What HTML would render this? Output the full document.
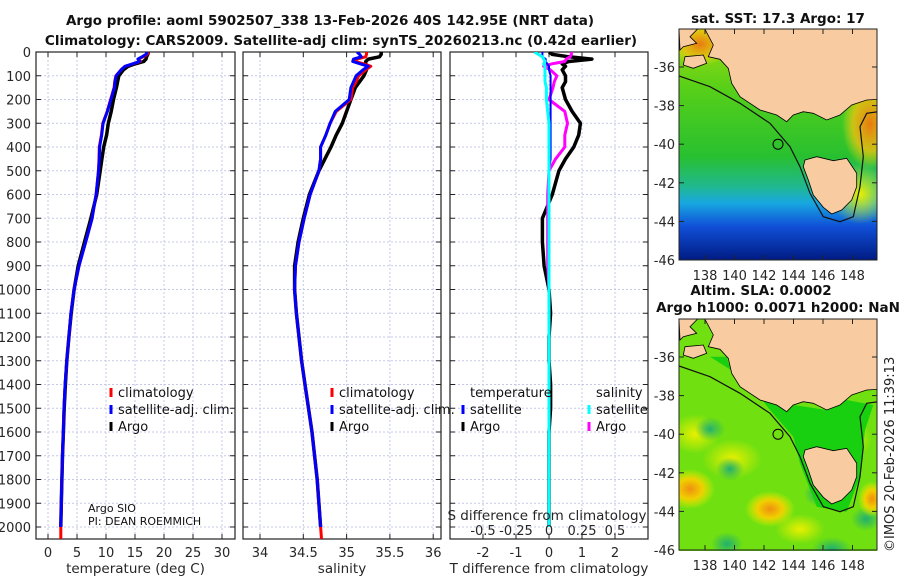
<!DOCTYPE html>
<html><head><meta charset="utf-8"><style>
html,body{margin:0;padding:0;background:#fff;}
svg{display:block;font-family:"DejaVu Sans","Liberation Sans",sans-serif;}
</style></head><body>
<svg id="fig" width="900" height="580" viewBox="0 0 900 580" xmlns="http://www.w3.org/2000/svg">
<defs>
<linearGradient id="sstGrad" x1="0" y1="0" x2="0" y2="1">
<stop offset="0" stop-color="#a8dc10"/><stop offset="0.25" stop-color="#58d018"/><stop offset="0.55" stop-color="#28c030"/>
<stop offset="0.68" stop-color="#20b890"/><stop offset="0.75" stop-color="#18a8e0"/><stop offset="0.85" stop-color="#1050d8"/><stop offset="1" stop-color="#001a80"/>
</linearGradient>
<radialGradient id="warm" cx="0.5" cy="0.5" r="0.5"><stop offset="0" stop-color="#e87a10"/><stop offset="0.6" stop-color="#f0c010" stop-opacity="0.8"/><stop offset="1" stop-color="#f0e010" stop-opacity="0"/></radialGradient>
<radialGradient id="yel" cx="0.5" cy="0.5" r="0.5"><stop offset="0" stop-color="#e8f000"/><stop offset="1" stop-color="#e8f000" stop-opacity="0"/></radialGradient>
<radialGradient id="teal" cx="0.5" cy="0.5" r="0.5"><stop offset="0" stop-color="#20b070"/><stop offset="1" stop-color="#20b070" stop-opacity="0"/></radialGradient>
<radialGradient id="org" cx="0.5" cy="0.5" r="0.5"><stop offset="0" stop-color="#f09010"/><stop offset="0.5" stop-color="#f0d000"/><stop offset="1" stop-color="#e8f000" stop-opacity="0"/></radialGradient>
<clipPath id="c1"><rect x="36" y="52" width="199" height="487"/></clipPath>
<clipPath id="c2"><rect x="243" y="52" width="198" height="487"/></clipPath>
<clipPath id="c3"><rect x="450" y="52" width="198" height="487"/></clipPath>
<clipPath id="m1"><rect x="679" y="29" width="198" height="231"/></clipPath>
<clipPath id="m2"><rect x="679" y="319" width="198" height="232"/></clipPath>
</defs>
<text x="330" y="25" text-anchor="middle" font-size="13.5" font-weight="bold" fill="#111">Argo profile: aoml 5902507_338 13-Feb-2026 40S 142.95E (NRT data)</text>
<text x="341" y="45" text-anchor="middle" font-size="13.5" font-weight="bold" fill="#111">Climatology: CARS2009. Satellite-adj clim: synTS_20260213.nc (0.42d earlier)</text>
<g id="panels"></g>
<g id="maps"></g>
<text transform="translate(894,552) rotate(-90)" font-size="13" fill="#222">©IMOS 20-Feb-2026 11:39:13</text>
</svg>
<script>
// ---- data ----
const depths = [0,10,20,30,40,50,60,75,100,125,150,200,250,300,350,400,450,500,600,700,800,900,1000,1100,1200,1300,1400,1500,1600,1700,1800,1900,2000,2050];
const argoT = [17.3,17.2,17.0,16.9,16.5,15.0,13.8,13.0,12.2,12.0,11.8,11.3,10.9,10.4,10.1,9.6,9.3,9.0,8.4,7.4,6.3,5.2,4.5,4.0,3.6,3.25,3.0,2.8,2.65,2.5,2.4,2.3,2.2];
const climT = [17.3,17.1,16.4,15.6,15.9,14.6,13.3,12.6,11.7,11.5,11.4,10.8,10.2,9.45,9.2,8.85,8.8,8.7,8.3,7.6,6.5,5.35,4.5,3.95,3.6,3.25,2.95,2.75,2.65,2.5,2.4,2.3,2.2,2.2];
const satT = [17.1,16.9,16.2,15.5,15.8,14.55,13.3,12.6,11.75,11.55,11.45,10.85,10.25,9.5,9.25,8.9,8.85,8.7,8.3,7.6,6.5,5.35,4.5,3.95,3.6,3.25,2.95,2.75,2.65,2.5,2.4,2.3,2.2];
const argoS = [35.40,35.40,35.38,35.25,35.22,35.22,35.24,35.23,35.20,35.15,35.10,35.05,35.00,34.95,34.88,34.82,34.75,34.68,34.57,34.50,34.44,34.40,34.40,34.42,34.45,34.48,34.52,34.56,34.60,34.63,34.66,34.68,34.70];
const climS = [35.23,35.23,35.22,35.12,35.10,35.20,35.28,35.22,35.14,35.11,35.07,35.05,34.88,34.81,34.76,34.70,34.70,34.68,34.58,34.51,34.45,34.41,34.40,34.42,34.45,34.48,34.52,34.56,34.60,34.63,34.66,34.68,34.70,34.71];
const satS = [35.12,35.15,35.17,35.08,35.07,35.16,35.25,35.19,35.11,35.08,35.05,35.03,34.87,34.81,34.76,34.70,34.70,34.68,34.58,34.51,34.45,34.41,34.40,34.42,34.45,34.48,34.52,34.56,34.60,34.63,34.66,34.68,34.70];
const depthTicks = [0,100,200,300,400,500,600,700,800,900,1000,1100,1200,1300,1400,1500,1600,1700,1800,1900,2000];
const tTicks = [0,5,10,15,20,25,30];
const sTicks = [34,34.5,35,35.5,36];
const sTickLabels = ["34","34.5","35","35.5","36"];
const dTTicks = [-2,-1,0,1,2];
const dSTicks = [-0.5,-0.25,0,0.25,0.5];
const dSTickLabels = ["-0.5","-0.25","0","0.25","0.5"];
const lonTicks = [138,140,142,144,146,148];
const latTicks = [-36,-38,-40,-42,-44,-46];

// ---- scales ----
const yD = d => 52 + d*0.2375;
const xT = t => 48 + t*5.8;
const xS = s => 260 + (s-34)*86.6;
const xDT = v => 549 + v*33;
const xDS = v => 549 + v*4*33;
const NS = "http://www.w3.org/2000/svg";
const P = document.getElementById('panels');
function mk(tag, attrs, parent){const e=document.createElementNS(NS,tag);for(const k in attrs)e.setAttribute(k,attrs[k]);(parent||P).appendChild(e);return e;}
function line(x1,y1,x2,y2,st,sw,da,parent){return mk('line',{x1,y1,x2,y2,stroke:st,'stroke-width':sw,'stroke-dasharray':da||'none'},parent);}
function txt(x,y,s,anchor,size,parent){const e=mk('text',{x,y,'text-anchor':anchor,'font-size':size,fill:'#262626'},parent);e.textContent=s;return e;}

function panel(name,L,R,xs,ticks,labels,xlabel,clip){
  const g=mk('g',{});
  
  
  depthTicks.forEach(d=>{ if(d>0) line(L,yD(d),R,yD(d),'#c4c8e8',1,'2,2',g);
    line(L,yD(d),L+5,yD(d),'#222',1,null,g); line(R,yD(d),R-5,yD(d),'#222',1,null,g);});
  ticks.forEach((t,i)=>{const x=xs(t); line(x,52,x,539,'#c4c8e8',1,'2,2',g);
    line(x,539,x,534,'#222',1,null,g); line(x,52,x,57,'#222',1,null,g);
    const l=txt(x,557,labels[i],'middle',13,g);
    
    
  });
  const fr=mk('rect',{x:L,y:52,width:R-L,height:487,fill:'none',stroke:'#222','stroke-width':1.2},g);
  
  
  const xl=txt((L+R)/2,573,xlabel,'middle',13.5,g);
  
  
  return g;
}
function series(vals,xs,color,name,clip,w){
  let d='';vals.forEach((v,i)=>{d+=(i?'L':'M')+xs(v).toFixed(1)+','+yD(depths[i]).toFixed(1);});
  const p=mk('path',{d,fill:'none',stroke:color,'stroke-width':w||3,'stroke-linejoin':'round','clip-path':'url(#'+clip+')'});
  
  
}
// depth labels
depthTicks.forEach(d=>{const t=txt(31,yD(d)+5,String(d),'end',13);
  
  });

panel('temperature-panel',36,235,xT,tTicks,tTicks.map(String),'temperature (deg C)');
series(argoT,xT,'#000','argo-temperature-line','c1',3.5);
series(climT,xT,'#f00','climatology-temperature-line','c1');
series(satT,xT,'#00f','satellite-temperature-line','c1');

panel('salinity-panel',243,441,xS,sTicks,sTickLabels,'salinity');
series(argoS,xS,'#000','argo-salinity-line','c2',3.5);
series(climS,xS,'#f00','climatology-salinity-line','c2');
series(satS,xS,'#00f','satellite-salinity-line','c2');

panel('difference-panel',450,648,xDT,dTTicks,dTTicks.map(String),'T difference from climatology');
const dTA=argoT.map((v,i)=>v-climT[i]), dTS=satT.map((v,i)=>v-climT[i]);
const dSA=argoS.map((v,i)=>v-climS[i]), dSS=satS.map((v,i)=>v-climS[i]);
series(dTA,xDT,'#000','argo-t-diff-line','c3',3.5);
series(dSA,xDS,'#f0f','argo-s-diff-line','c3');
series(dTS,xDT,'#00f','satellite-t-diff-line','c3',2);
series(dSS,xDS,'#0ff','satellite-s-diff-line','c3');
dSTicks.forEach((t,i)=>{const l=txt(xDS(t),535,dSTickLabels[i],'middle',13);
  
  });
{const t=txt(547,520,'S difference from climatology','middle',13.5);
 
 }

// legends
function leg(x,y,color,label){const g=mk('g',{});
  
  
  mk('rect',{x:x-1.5,y:y-9,width:3,height:9,fill:color},g);
  txt(x+7,y,label,'start',13,g).setAttribute('fill','#111');}
leg(111,397,'#f00','climatology');leg(111,414,'#00f','satellite-adj. clim.');leg(111,431,'#000','Argo');
leg(332,397,'#f00','climatology');leg(332,414,'#00f','satellite-adj. clim.');leg(332,431,'#000','Argo');
{const t=txt(470,397,'temperature','start',13);t.setAttribute('fill','#111');
 
 }
leg(463,414,'#00f','satellite');leg(463,431,'#000','Argo');
{const t=txt(596,397,'salinity','start',13);t.setAttribute('fill','#111');
 
 }
leg(589,414,'#0ff','satellite');leg(589,431,'#f0f','Argo');
{const t=txt(88,512,'Argo SIO','start',11);t.setAttribute('fill','#111');
 
 
 const t2=txt(88,525,'PI: DEAN ROEMMICH','start',11);t2.setAttribute('fill','#111');
 
 }

// ---- maps ----
const M=document.getElementById('maps');
const mainland=[[135,88],[160,135],[145,170],[180,178],[205,205],[215,250],[240,290],[300,330],[350,345],[380,365],[400,345],[430,335],[460,340],[500,360],[540,345],[575,315],[620,300],[655,298],[655,85],[135,85]];
const gulfLand=[[57,85],[115,85],[90,110],[110,130],[70,140],[60,150]];
const island=[[75,170],[130,165],[140,190],[100,205],[70,195]];
const tas=[[435,480],[470,470],[520,482],[560,475],[590,520],[590,560],[575,600],[545,630],[515,642],[490,622],[460,585],[445,540],[430,500]];
const contour=[[57,228],[150,260],[240,310],[330,370],[390,440],[420,500],[450,580],[490,650],[540,665],[580,650],[600,560],[610,470],[600,380],[620,340],[655,335]];
function pts(a,dy){return a.map(p=>(660+p[0]/3).toFixed(1)+','+(p[1]/3+dy).toFixed(1)).join(' ');}
function drawMap(dy,n,kind){
  const g=mk('g',{'clip-path':'url(#'+(n===1?'m1':'m2')+')'},M);
  
  
  const top=29+dy;
  if(kind==='sst'){
    mk('rect',{x:679,y:top,width:198,height:232,fill:'url(#sstGrad)'},g);
    mk('ellipse',{cx:870,cy:top+95,rx:28,ry:45,fill:'url(#warm)'},g);
    mk('ellipse',{cx:700,cy:top+15,rx:30,ry:22,fill:'url(#warm)'},g);
    mk('ellipse',{cx:860,cy:top+165,rx:30,ry:30,fill:'url(#yel)'},g);
  } else {
    mk('rect',{x:679,y:top,width:198,height:232,fill:'#70e010'},g);
    [[695,top+115,25,20,'yel'],[690,top+170,25,20,'org'],[770,top+190,25,18,'org'],[732,top+140,30,20,'yel'],[800,top+210,25,15,'yel'],[710,top+110,15,12,'teal'],[730,top+150,14,12,'teal'],[727,top+225,16,12,'teal'],[866,top+200,15,12,'teal'],[872,top+180,14,18,'org'],[850,top+120,22,20,'yel'],[832,top+230,20,12,'teal'],[818,top+175,14,12,'teal']].forEach(b=>
      mk('ellipse',{cx:b[0],cy:b[1],rx:b[2],ry:b[3],fill:'url(#'+b[4]+')'},g));
    mk('polygon',{points:pts([[150,200],[260,270],[330,360],[400,440],[420,520],[470,650],[560,665],[600,560],[615,420],[640,345],[560,330],[500,360],[400,345],[300,330],[215,250],[200,200]],dy),fill:'#18d010'},g);
  }
  [mainland,gulfLand,island,tas].forEach(a=>{const p=mk('polygon',{points:pts(a,dy),fill:'#f8cca0',stroke:'#000','stroke-width':0.8},g);
    
    });
  const c=mk('polyline',{points:pts(contour,dy),fill:'none',stroke:'#111','stroke-width':1.2},g);
  
  
  const lx=705+(142.95-138)*14.75, ly=67+(-36+40)*19.3+dy;
  const m=mk('circle',{cx:lx,cy:ly,r:5,fill:'none',stroke:'#000','stroke-width':1},g);
  
  
  const fr=mk('rect',{x:679,y:top,width:198,height:231,fill:'none',stroke:'#222','stroke-width':1},M);
  
  
  lonTicks.forEach(l=>{const x=705+(l-138)*14.75;line(x,top+231,x,top+226,'#222',1,null,M);line(x,top,x,top+5,'#222',1,null,M);
    const t=txt(x,top+251,String(l),'middle',13,M);
    
    });
  latTicks.forEach(l=>{const y=67+(-36-l)*19.3+dy;line(679,y,684,y,'#222',1,null,M);line(877,y,872,y,'#222',1,null,M);
    const t=txt(675,y+5,String(l),'end',13,M);
    
    });
}
drawMap(0,1,'sst');
drawMap(290,2,'sla');
function ttl(x,y,s,n){const t=txt(x,y,s,'middle',13.5,M);t.setAttribute('font-weight','bold');t.setAttribute('fill','#111');
  
  }
ttl(778,23,'sat. SST: 17.3 Argo: 17','sst-map-title');
ttl(761,295,'Altim. SLA: 0.0002','sla-map-title');
ttl(778,312,'Argo h1000: 0.0071 h2000: NaN','sla-map-subtitle');
</script>
</body></html>
